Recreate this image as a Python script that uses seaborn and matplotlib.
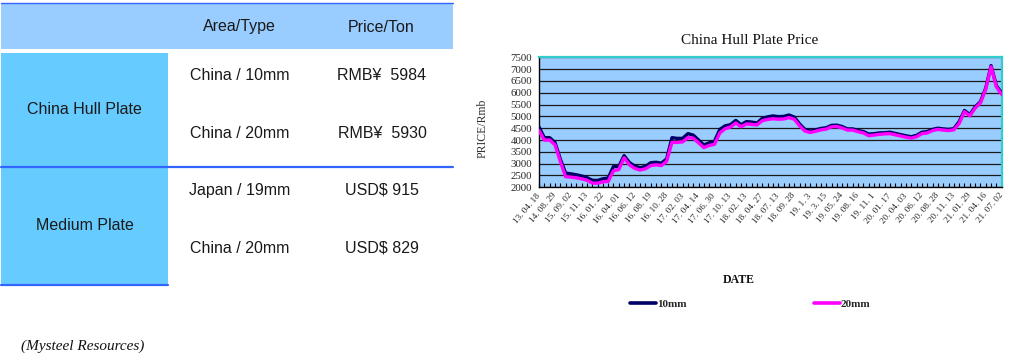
import numpy as np
import pandas as pd
import matplotlib
matplotlib.use("Agg")
import matplotlib.pyplot as plt
from matplotlib.patches import Rectangle
from matplotlib.lines import Line2D
import seaborn as sns

# ---------------- data ----------------
header = ["Area/Type", "Price/Ton"]
products = ["China Hull Plate", "Medium Plate"]
areas = ["China / 10mm", "China / 20mm", "Japan / 19mm", "China / 20mm"]
prices = ["RMB\u00a5  5984", "RMB\u00a5  5930", "USD$ 915", "USD$ 829"]
source = "(Mysteel Resources)"

chart_title = "China Hull Plate Price"
series_names = ["10mm", "20mm"]
tick_labels = ["13. 04. 18", "14. 08. 29", "15. 09. 02", "15. 11. 13", "16. 01. 22",
               "16. 04. 01", "16. 06. 12", "16. 08. 19", "16. 10. 28", "17. 02. 03",
               "17. 04. 14", "17. 06. 30", "17. 10. 13", "18. 02. 13", "18. 04. 27",
               "18. 07. 13", "18. 09. 28", "19. 1. 3", "19. 3. 15", "19. 05. 24",
               "19. 08. 16", "19. 11. 1", "20. 01. 17", "20. 04. 03", "20. 06. 12",
               "20. 08. 28", "20. 11. 13", "21. 01. 29", "21. 04. 16", "21. 07. 02"]

price_10mm = [4550, 4100, 4100, 3900, 3200, 2600, 2570, 2530, 2480, 2410,
              2300, 2290, 2360, 2390, 2880, 2880, 3340, 3050, 2900, 2830,
              2880, 3040, 3060, 3020, 3200, 4100, 4070, 4070, 4270, 4210,
              4000, 3790, 3880, 3950, 4450, 4600, 4650, 4830, 4650, 4780,
              4760, 4720, 4920, 4980, 5020, 4990, 5000, 5060, 4970, 4680,
              4450, 4380, 4430, 4490, 4520, 4620, 4630, 4570, 4470, 4470,
              4400, 4360, 4250, 4270, 4300, 4310, 4330, 4280, 4230, 4180,
              4140, 4200, 4330, 4360, 4450, 4500, 4470, 4450, 4480, 4780,
              5250, 5080, 5400, 5620, 6200, 7150, 6300, 5984]

price_20mm = [4400, 4000, 4000, 3800, 3100, 2450, 2430, 2400, 2360, 2300,
              2180, 2170, 2230, 2250, 2700, 2750, 3250, 2950, 2800, 2730,
              2780, 2920, 2950, 2920, 3100, 3900, 3900, 3920, 4100, 4080,
              3880, 3680, 3770, 3820, 4300, 4480, 4550, 4720, 4560, 4680,
              4660, 4640, 4820, 4870, 4900, 4880, 4890, 4950, 4880, 4600,
              4380, 4320, 4370, 4430, 4460, 4560, 4570, 4510, 4420, 4420,
              4350, 4300, 4180, 4210, 4240, 4260, 4270, 4220, 4170, 4120,
              4080, 4140, 4270, 4300, 4400, 4450, 4420, 4400, 4430, 4700,
              5200, 5020, 5350, 5570, 6150, 7100, 6250, 5930]

# ---------------- style ----------------
sns.set_style("white")
plt.rcParams['font.family'] = ['Liberation Sans', 'DejaVu Sans']

W, H = 1010, 360
fig = plt.figure(figsize=(W / 100, H / 100), dpi=100)


def fx(px):
    return px / W


def fy(py):
    return 1 - py / H


def rect(x0, y0, x1, y1, color):
    fig.add_artist(Rectangle((fx(x0), fy(y1)), (x1 - x0) / W, (y1 - y0) / H,
                             transform=fig.transFigure, facecolor=color,
                             edgecolor='none', zorder=0))


def hline(x0, x1, y, color='#3366FF', lw=1.6):
    fig.add_artist(Line2D([fx(x0), fx(x1)], [fy(y), fy(y)], transform=fig.transFigure,
                          color=color, lw=lw, zorder=1))


# ---------------- table ----------------
rect(1, 3, 453, 48.5, '#99CCFF')
hline(1, 453, 3.3, lw=1.0)
rect(1, 53, 168, 166, '#66CCFF')
rect(1, 167.5, 168, 284, '#66CCFF')
hline(1, 453, 166.7)
hline(1, 168, 284.5)

tfont = dict(family=['Liberation Sans', 'DejaVu Sans'], size=11.5, color='#1a1a1a',
             ha='center', va='center')
fig.text(fx(239.5), fy(27), header[0], **tfont)
fig.text(fx(381.5), fy(27), header[1], **tfont)

fig.text(fx(84.5), fy(110), products[0], **tfont)
fig.text(fx(84.5), fy(225), products[1], **tfont)

row_y = [76, 133, 190, 248.5]
for yy, a, p in zip(row_y, areas, prices):
    fig.text(fx(239.5), fy(yy), a, **tfont)
    fig.text(fx(382), fy(yy), p, **tfont)

fig.text(fx(21), fy(346.5), source, family='Liberation Serif', style='italic',
         size=11, ha='left', va='center', color='#111111')

# ---------------- chart ----------------
n = len(price_10mm)
df = pd.DataFrame({
    'idx': list(range(n)) * 2,
    'price': price_10mm + price_20mm,
    'series': [series_names[0]] * n + [series_names[1]] * n,
})

ax = fig.add_axes([fx(539), fy(187.3), (1001.7 - 539) / W, (187.3 - 57.3) / H])
ax.set_facecolor('#99CCFF')
palette = {series_names[0]: '#000066', series_names[1]: '#FF00FF'}
sns.lineplot(data=df, x='idx', y='price', hue='series', palette=palette,
             linewidth=2.4, ax=ax, legend=False, zorder=3)

ax.set_xlim(0, n - 1)
ax.set_ylim(2000, 7500)
ax.set_yticks(np.arange(2000, 7501, 500))
ax.set_xticks(np.arange(0, n, 3))
ax.set_xticks(np.arange(n), minor=True)
ax.set_xticklabels(tick_labels, rotation=50, ha='right', va='center',
                   rotation_mode='anchor', family='Liberation Serif', size=6.6)
for lab in ax.get_yticklabels():
    lab.set_family('Liberation Serif')
    lab.set_fontsize(7.8)
ax.tick_params(axis='x', which='both', direction='in', length=3, width=0.8,
               color='black', pad=5, bottom=True)
ax.tick_params(axis='y', length=0, pad=5)
ax.yaxis.grid(True, color='#1a1a1a', lw=0.9)
ax.xaxis.grid(False)
ax.set_axisbelow(True)

for side in ['top', 'right']:
    ax.spines[side].set_color('#33CCCC')
    ax.spines[side].set_linewidth(1.6)
for side in ['left', 'bottom']:
    ax.spines[side].set_color('black')
    ax.spines[side].set_linewidth(1.0)

ax.set_xlabel('')
ax.set_ylabel('')

fig.text(fx(750), fy(41), chart_title, family='Liberation Serif', size=11,
         ha='center', va='center', color='#111111')
fig.text(fx(483), fy(128), 'PRICE/Rmb', family='Liberation Serif', size=8.5,
         rotation=90, ha='center', va='center', color='#333333')
fig.text(fx(739), fy(280), 'DATE', family='Liberation Serif', size=8.5,
         weight='bold', ha='center', va='center', color='#111111')

handles = [Line2D([], [], color=palette[s], lw=2.6, label=s) for s in series_names]
ax.legend(handles=handles, loc='center', bbox_to_anchor=(fx(750.5), fy(304)),
          bbox_transform=fig.transFigure, ncol=2, frameon=False,
          handlelength=2.3, handletextpad=0.1, columnspacing=11.5,
          prop={'family': 'Liberation Serif', 'size': 8, 'weight': 'bold'})

fig.savefig('out.png', dpi=100)
